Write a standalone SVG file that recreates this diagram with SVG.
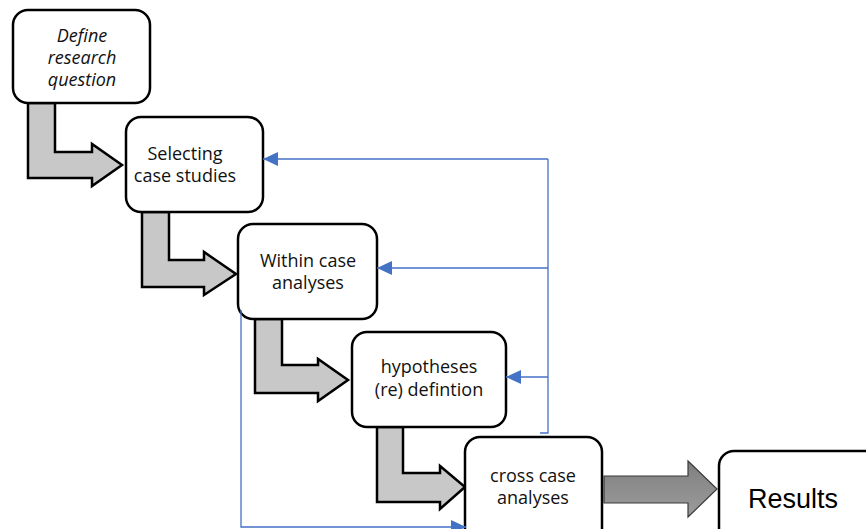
<svg xmlns="http://www.w3.org/2000/svg" width="866" height="529" viewBox="0 0 866 529">
<style>
.node{fill:#fff;stroke:#000;stroke-width:2.5}
.bent{fill:#c8c8c8;stroke:#000;stroke-width:2.5;stroke-linejoin:miter}
.lbl{font-family:"Open Sans","Noto Sans","DejaVu Sans",sans-serif;font-size:18px;fill:#111;text-anchor:middle}
.it{font-style:italic}
.res{font-family:"Liberation Sans",Arial,sans-serif;font-size:27px;fill:#000;text-anchor:middle}
.blue{fill:none;stroke:#4472C4;stroke-width:1.3}
</style>
<defs>
<marker id="ah" markerUnits="userSpaceOnUse" markerWidth="16" markerHeight="14" refX="15" refY="7" orient="auto">
<path d="M0,0 L15,7 L0,14 Z" fill="#4472C4"/>
</marker>
<linearGradient id="gg" x1="0" y1="0" x2="0" y2="1">
<stop offset="0" stop-color="#7f7f7f"/>
<stop offset="1" stop-color="#9c9c9c"/>
</linearGradient>
</defs>
<rect width="866" height="529" fill="#fff"/>
<g id="flow-arrows">
<polygon class="bent" points="28,103 28,178 92,178 92,186 122,165 92,144 92,152 55,152 55,103"/>
<polygon class="bent" points="142,212 142,287 204,287 204,295 236,274 204,252 204,260 169,260 169,212"/>
<polygon class="bent" points="255,319 255,393 318,393 318,401 348,380 318,359 318,365 282,365 282,319"/>
<polygon class="bent" points="377,427 377,502 440,502 440,509 465,487 440,466 440,473 403,473 403,427"/>
<polygon points="604,476 688,476 688,461 717,489 688,517 688,503 604,503" fill="url(#gg)" stroke="#3a3a3a" stroke-width="1.2"/>
</g>
<g id="n1">
<rect class="node" x="13" y="10" width="137" height="93" rx="15"/>
<text class="lbl it" x="82" y="42">Define</text>
<text class="lbl it" x="82" y="64">research</text>
<text class="lbl it" x="82" y="86">question</text>
</g>
<g id="n2">
<rect class="node" x="126" y="117" width="137" height="95" rx="15"/>
<text class="lbl" x="185" y="160">Selecting</text>
<text class="lbl" x="185" y="182">case studies</text>
</g>
<g id="n3">
<rect class="node" x="238" y="224" width="139" height="95" rx="15"/>
<text class="lbl" x="308" y="267">Within case</text>
<text class="lbl" x="308" y="289">analyses</text>
</g>
<g id="n4">
<rect class="node" x="352" y="332" width="154" height="95" rx="15"/>
<text class="lbl" x="429" y="373">hypotheses</text>
<text class="lbl" x="429" y="396">(re) defintion</text>
</g>
<g id="n5">
<rect class="node" x="465" y="437" width="137" height="110" rx="15"/>
<text class="lbl" x="533" y="482">cross case</text>
<text class="lbl" x="533" y="504">analyses</text>
</g>
<g id="results">
<rect class="node" x="719" y="451" width="170" height="100" rx="15"/>
<text class="res" x="793" y="508">Results</text>
</g>
<g id="connectors">
<polyline class="blue" points="540,433 548,433 548,159"/>
<line class="blue" x1="548" y1="159" x2="263" y2="159" marker-end="url(#ah)"/>
<line class="blue" x1="548" y1="268" x2="377" y2="268" marker-end="url(#ah)"/>
<line class="blue" x1="548" y1="377" x2="506" y2="377" marker-end="url(#ah)"/>
<polyline class="blue" points="241,310 241,527 466,527" marker-end="url(#ah)"/>
</g>
</svg>
